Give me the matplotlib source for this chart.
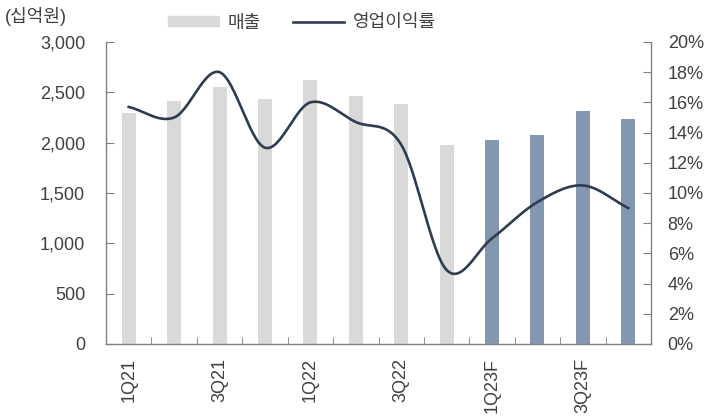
import numpy as np
import matplotlib.pyplot as plt
from matplotlib.lines import Line2D
from matplotlib.patches import Patch

plt.rcParams['font.family'] = ['Liberation Sans', 'Noto Sans CJK KR', 'DejaVu Sans']

quarters = ['1Q21', '2Q21', '3Q21', '4Q21', '1Q22', '2Q22', '3Q22', '4Q22',
            '1Q23F', '2Q23F', '3Q23F', '4Q23F']
sales = [2290, 2410, 2550, 2430, 2620, 2460, 2380, 1980, 2030, 2080, 2310, 2240]
op_margin = [15.7, 15.0, 18.0, 13.0, 16.0, 14.7, 13.2, 4.9, 7.0, 9.4, 10.5, 9.0]
n_actual = 8


def catmull_rom(x, y, steps=30):
    # smooth curve through the points (like Excel's smoothed line)
    x = np.asarray(x, float)
    y = np.asarray(y, float)
    px = np.concatenate([[2 * x[0] - x[1]], x, [2 * x[-1] - x[-2]]])
    py = np.concatenate([[2 * y[0] - y[1]], y, [2 * y[-1] - y[-2]]])
    xs, ys = [], []
    for i in range(1, len(px) - 2):
        t = np.linspace(0, 1, steps, endpoint=False)
        for p, out in ((px, xs), (py, ys)):
            p0, p1, p2, p3 = p[i - 1], p[i], p[i + 1], p[i + 2]
            out.extend(0.5 * (2 * p1 + (-p0 + p2) * t + (2 * p0 - 5 * p1 + 4 * p2 - p3) * t ** 2
                              + (-p0 + 3 * p1 - 3 * p2 + p3) * t ** 3))
    xs.append(x[-1])
    ys.append(y[-1])
    return np.array(xs), np.array(ys)


fig = plt.figure(figsize=(7.08, 4.2), dpi=100)
ax = fig.add_axes([106 / 708, 1 - 344 / 420, 545 / 708, 302 / 420])
ax2 = ax.twinx()

x = np.arange(len(quarters))
colors = ['#d9d9d9'] * n_actual + ['#8497b0'] * (len(quarters) - n_actual)
ax.bar(x, sales, width=0.31, color=colors, zorder=2)

sx, sy = catmull_rom(x, op_margin)
ax2.plot(sx, sy, color='#2e3c50', lw=1.9, zorder=3)

ax.set_xlim(-0.5, len(quarters) - 0.5)
ax.set_ylim(0, 3000)
ax.set_yticks(np.arange(0, 3001, 500))
ax.set_yticklabels([f'{v:,}' for v in range(0, 3001, 500)])
ax2.set_ylim(0, 20)
ax2.set_yticks(np.arange(0, 21, 2))
ax2.set_yticklabels([f'{v}%' for v in range(0, 21, 2)])

ax.set_xticks(x[::2])
ax.set_xticklabels(quarters[::2], rotation=90)
ax.set_xticks(np.arange(-0.5, len(quarters), 1), minor=True)
ax.tick_params(axis='x', which='major', length=0, pad=10)
ax.tick_params(axis='x', which='minor', direction='in', length=5, color='#808080')

for a in (ax, ax2):
    for s in a.spines.values():
        s.set_visible(False)
    a.tick_params(axis='y', direction='in', length=6, color='#808080',
                  labelsize=13, labelcolor='#404040')
ax.tick_params(axis='y', pad=15)
ax2.tick_params(axis='y', pad=12)
ax.tick_params(axis='x', labelsize=13, labelcolor='#404040')
ax.spines['left'].set_visible(True)
ax.spines['bottom'].set_visible(True)
ax2.spines['right'].set_visible(True)
for s in (ax.spines['left'], ax.spines['bottom'], ax2.spines['right']):
    s.set_color('#808080')
    s.set_linewidth(1.0)

fig.text(5 / 708, 1 - 17 / 420, '(십억원)', fontsize=13, color='#404040', va='center')

handles = [Patch(color='#d9d9d9'), Line2D([], [], color='#2e3c50', lw=1.9)]
fig.legend(handles, ['매출', '영업이익률'], ncol=2, frameon=False,
           loc='center left', bbox_to_anchor=(168 / 708, 1 - 23 / 420),
           fontsize=13, handlelength=2.8, handleheight=0.5, handletextpad=0.5,
           columnspacing=1.8, borderpad=0, borderaxespad=0,
           labelcolor='#404040')

fig.savefig('out.png', dpi=100)
